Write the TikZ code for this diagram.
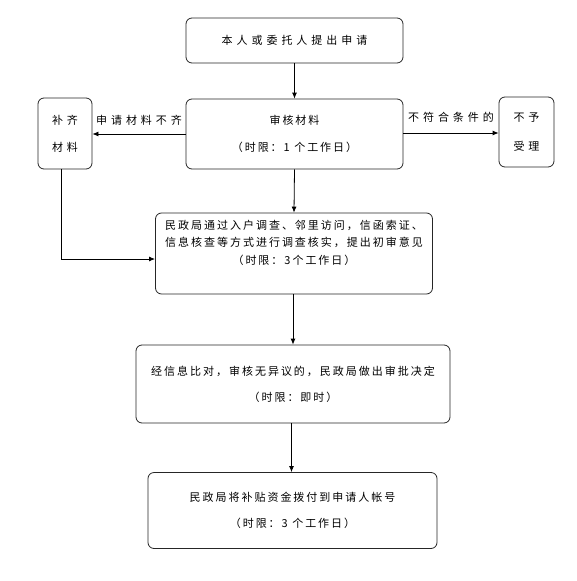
\documentclass[tikz,border=0pt]{standalone}
\usepackage{fontspec}
\setmainfont{Noto Sans CJK SC}
\newfontfamily\cjkin[LetterSpace=18]{Noto Sans CJK SC}
\newfontfamily\cjkwide[LetterSpace=36]{Noto Sans CJK SC}
\usetikzlibrary{arrows.meta}
\begin{document}
\begin{tikzpicture}[x=1pt,y=-1pt,
  box/.style={draw=black!85,line width=0.8pt,rounded corners=6pt,inner sep=0pt,align=center},
  intext/.style={font=\cjkin\fontsize{11}{27}\selectfont},
  widetext/.style={font=\cjkwide\fontsize{11}{27}\selectfont},
  lbl/.style={font=\cjkwide\fontsize{11}{13}\selectfont,inner sep=0pt},
  conn/.style={line width=0.8pt,-{Latex[length=6pt,width=5pt]}}]
\useasboundingbox (0,0) rectangle (576,581);
\node[box,widetext,minimum width=217pt,minimum height=45pt] (b1) at (294.5,40.5) {本人或委托人提出申请};
\node[box,intext,minimum width=217pt,minimum height=70pt] (b2) at (294.5,134) {审核材料\\（时限：1 个工作日）};
\node[box,widetext,minimum width=54pt,minimum height=71pt] (bq) at (65,133.5) {补齐\\材料};
\node[box,widetext,font=\cjkwide\fontsize{11}{29}\selectfont,minimum width=55pt,minimum height=70pt] (bn) at (526.5,132) {不予\\受理};
\node[box,intext,font=\cjkin\fontsize{11}{17.5}\selectfont,minimum width=277pt,minimum height=81pt] (b3) at (294,253.5) {民政局通过入户调查、邻里访问，信函索证、\\信息核查等方式进行调查核实，提出初审意见\\（时限：3个工作日）\\\strut};
\node[box,intext,font=\cjkin\fontsize{11}{26}\selectfont,minimum width=314pt,minimum height=78pt] (b4) at (293,384) {经信息比对，审核无异议的，民政局做出审批决定\\（时限：即时）};
\node[box,intext,font=\cjkin\fontsize{11}{26}\selectfont,minimum width=289pt,minimum height=76pt] (b5) at (292.5,510.5) {民政局将补贴资金拨付到申请人帐号\\（时限：3 个工作日）};
\coordinate (c1) at (61,259);
\coordinate (c2) at (155,259);
\draw[conn] (b1.south) -- (b2.north);
\draw[conn] (b2.west |- 0,134) -- (bq.east |- 0,134) node[lbl,midway,above=8pt] (l1) {申请材料不齐};
\draw[conn] (b2.east |- 0,133) -- (bn.west |- 0,133) node[lbl,midway,above=10pt] (l2) {不符合条件的};
\draw[conn] (b2.south) -- (b3.north);
\draw[conn] (bq.south -| c1) -- (c1) -- (c2);
\draw[conn] (b3.south -| 293,0) -- (b4.north -| 293,0);
\draw[conn] (b4.south -| 291.5,0) -- (b5.north -| 291.5,0);
\end{tikzpicture}
\end{document}
